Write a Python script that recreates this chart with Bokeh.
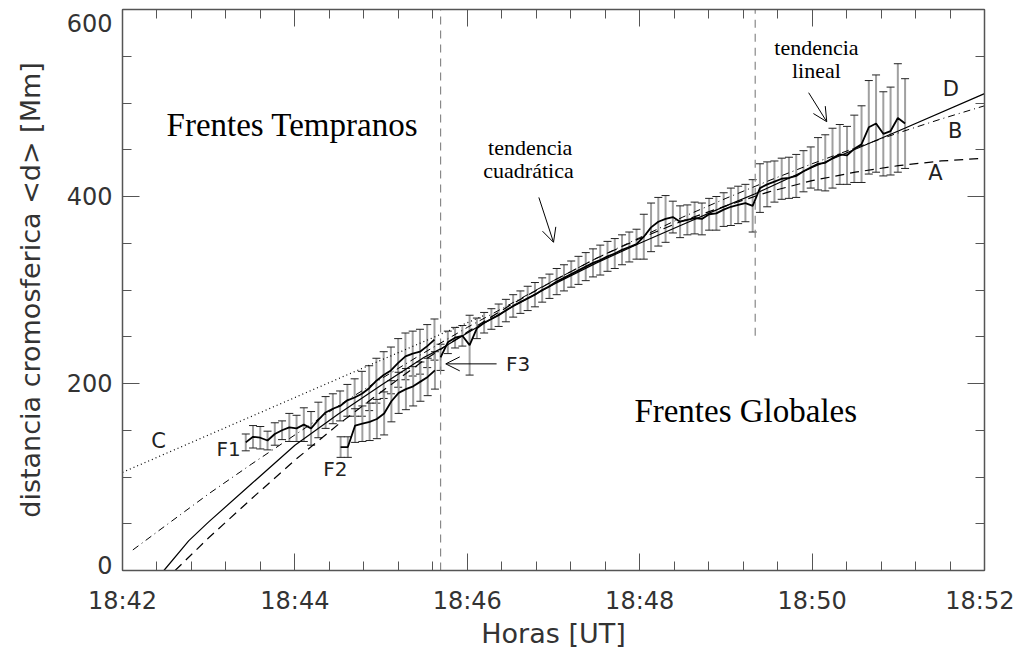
from bokeh.plotting import figure
from bokeh.models import (Range1d, FixedTicker, LinearAxis, Whisker, TeeHead,
                          ColumnDataSource, Label, Arrow, OpenHead, CustomJSTickFormatter,
                          CustomLabelingPolicy)
from bokeh.embed import file_html
from bokeh.resources import INLINE

# ---------------- data (minutes after 18:00) ----------------
# Global front (Frentes Globales), ~5 s cadence
g_start, g_step = 45.69, 0.0842
g_d = [228, 244, 249, 251, 241, 259, 265, 269, 273, 278, 283, 287, 291, 295, 300, 304,
       309, 313, 317, 321, 325, 329, 332, 336, 339, 343, 346, 349, 357, 367, 373, 376,
       378, 373, 375, 377, 376, 381, 382, 386, 389, 391, 393, 390, 409, 413, 416, 419,
       420, 422, 427, 431, 435, 436, 441, 445, 444, 451, 456, 474, 478, 467, 470, 484, 478]
g_e = [14, 12, 11, 11, 32, 11, 11, 11, 12, 12, 12, 12, 13, 13, 13, 13, 14, 14, 14, 15,
       15, 15, 16, 16, 16, 16, 16, 16, 24, 26, 26, 25, 17, 17, 16, 17, 17, 17, 18, 18,
       20, 20, 20, 28, 26, 24, 22, 22, 22, 23, 22, 22, 28, 30, 32, 32, 31, 36, 41, 50,
       52, 45, 47, 58, 48]

# Early front F1
f1_start, f1_step = 43.43, 0.0842
f1_d = [137, 143, 142, 139, 146, 150, 153, 152, 156, 152, 161, 169, 173, 176, 182, 185,
        189, 195, 203, 209, 214, 222, 229, 232, 234, 240, 247]
f1_e = [9, 12, 12, 10, 12, 10, 15, 14, 18, 18, 19, 17, 16, 16, 17, 20, 24, 24, 24, 25,
        25, 26, 25, 24, 24, 23, 22]

# Early front F2
f2_start, f2_step = 44.53, 0.0842
f2_d = [132, 132, 155, 157, 159, 162, 168, 181, 190, 194, 197, 202, 207, 214]
f2_e = [11, 11, 18, 19, 20, 21, 23, 22, 22, 22, 21, 21, 20, 20]

# Model curves
d_t = [42.48, 42.77, 43.0, 43.5, 44.0, 44.5, 45.0, 45.5, 45.69, 46.0, 46.5, 47.0, 47.5,
       48.0, 48.5, 49.0, 49.34, 50.0, 51.0, 52.0]
d_v = [0, 32, 52, 93, 134, 167, 198, 228, 237, 254, 281, 306, 329, 350, 370, 390, 403,
       431, 470, 510]
a_t = [42.61, 43.0, 43.5, 44.0, 44.5, 45.0, 45.5, 46.0, 46.5, 47.0, 47.5, 48.0, 48.5,
       49.0, 49.5, 50.0, 50.5, 51.0, 51.5, 52.0]
a_v = [0, 35, 77, 118, 156, 191, 225, 255, 284, 310, 334, 355, 374, 390, 405, 417, 426,
       433, 438, 441]
b_t = [42.12, 42.5, 43.0, 43.5, 44.0, 44.5, 45.0, 45.5, 46.0, 46.5, 47.0, 47.5, 48.0,
       48.5, 49.0, 49.5, 50.0, 50.5, 51.0, 51.5, 52.0]
b_v = [22, 48, 82, 114, 145, 176, 205, 233, 260, 285, 310, 334, 356, 378, 398, 417, 435,
       452, 468, 483, 497]
c_t = [42.0, 46.2]
c_v = [105, 273]

# boundaries between phases
t_sep1 = 45.69
t_sep2 = 49.34
sep2_low = 251

x_major = [42, 44, 46, 48, 50, 52]
y_major = [0, 200, 400, 600]

# ---------------- figure ----------------
p = figure(frame_width=862, frame_height=561, x_range=Range1d(42, 52),
           y_range=Range1d(0, 600), output_backend="svg", toolbar_location=None,
           min_border_left=122, min_border_top=9, min_border_right=30,
           min_border_bottom=76, x_axis_label="Horas [UT]",
           y_axis_label="distancia cromosferica <d> [Mm]")
p.grid.visible = False
p.outline_line_color = "#555555"
p.background_fill_color = "white"
p.border_fill_color = "white"

x_minor = [42 + 0.4 * k for k in range(26)]
y_minor = list(range(0, 601, 50))
xtick = FixedTicker(ticks=x_major, minor_ticks=x_minor)
ytick = FixedTicker(ticks=y_major, minor_ticks=y_minor)

fmt = CustomJSTickFormatter(code="return '18:' + tick.toFixed(0);")
# end labels nudged inward (as IDL does): extra empty line above/below
yfmt = CustomJSTickFormatter(code="""
if (tick >= 600) { return '\\n' + tick.toFixed(0); }
if (tick <= 0) { return tick.toFixed(0) + '\\n'; }
return tick.toFixed(0);
""")

no_labels = CustomLabelingPolicy(code="""
try { indices.clear(); }
catch (e) { for (const i of Array.from(indices)) { indices.unset(i); } }
return indices;
""")

def style_axis(ax, show):
    ax.axis_line_color = "#555555"
    ax.axis_line_width = 1.5
    ax.major_tick_line_color = "#555555"
    ax.minor_tick_line_color = "#555555"
    ax.major_tick_in = 17
    ax.major_tick_out = 0
    ax.minor_tick_in = 9
    ax.minor_tick_out = 0
    if show:
        ax.major_label_text_font = "DejaVu Sans"
        ax.major_label_text_font_size = "24px"
        ax.major_label_text_color = "#333333"
        ax.axis_label_text_font = "DejaVu Sans"
        ax.axis_label_text_font_size = "27px"
        ax.axis_label_text_font_style = "normal"
        ax.axis_label_text_color = "#333333"
    else:
        ax.major_label_text_font_size = "0px"
        ax.major_label_standoff = 0
        ax.major_label_policy = no_labels

p.xaxis.ticker = xtick
p.xaxis.formatter = fmt
p.yaxis.ticker = ytick
p.yaxis.formatter = yfmt
style_axis(p.xaxis[0], True)
style_axis(p.yaxis[0], True)
p.yaxis.major_label_text_line_height = 0.35
p.xaxis.major_label_standoff = 16
p.xaxis.axis_label_standoff = 0
p.yaxis.major_label_standoff = 10
p.yaxis.axis_label_standoff = 18

top = LinearAxis(ticker=xtick)
right = LinearAxis(ticker=ytick)
style_axis(top, False)
style_axis(right, False)
p.add_layout(top, "above")
p.add_layout(right, "right")

# vertical separators
p.line([t_sep1, t_sep1], [0, 600], line_color="#888888", line_width=1.2, line_dash="8 6")
p.line([t_sep2, t_sep2], [sep2_low, 600], line_color="#888888", line_width=1.2, line_dash="8 6")

# model curves
p.line(c_t, c_v, line_color="black", line_width=1.2, line_dash="1 3")
p.line(b_t, b_v, line_color="black", line_width=1, line_dash="7 4 1 4")
p.line(a_t, a_v, line_color="black", line_width=1.2, line_dash="9 6")
p.line(d_t, d_v, line_color="black", line_width=1.2)

# measured fronts with error bars
def front(start, step, vals, errs):
    t = [start + step * i for i in range(len(vals))]
    src = ColumnDataSource(dict(t=t, d=vals,
                                up=[v + e for v, e in zip(vals, errs)],
                                lo=[v - e for v, e in zip(vals, errs)]))
    w = Whisker(source=src, base="t", upper="up", lower="lo",
                line_color="#a0a0a0", line_width=2,
                upper_head=TeeHead(size=8, line_color="#222222", line_width=1),
                lower_head=TeeHead(size=8, line_color="#222222", line_width=1))
    p.add_layout(w)
    p.line("t", "d", source=src, line_color="black", line_width=1.8)

front(f1_start, f1_step, f1_d, f1_e)
front(f2_start, f2_step, f2_d, f2_e)
front(g_start, g_step, g_d, g_e)

# text annotations
serif = "Liberation Serif"
def lab(x, y, txt, size, font="DejaVu Sans", align="center", color="black"):
    p.add_layout(Label(x=x, y=y, text=txt, text_font=font, text_font_size=size,
                       text_align=align, text_baseline="middle", text_color=color))

lab(43.97, 476, "Frentes Tempranos", "33px", serif)
lab(49.23, 171, "Frentes Globales", "33px", serif)
lab(46.73, 452, "tendencia", "22px", serif)
lab(46.71, 428, "cuadrática", "22px", serif)
lab(50.05, 559, "tendencia", "22px", serif)
lab(50.05, 535, "lineal", "22px", serif)

lab(42.42, 139, "C", "21px", color="#222222")
lab(43.23, 130, "F1", "20px", color="#222222")
lab(44.47, 109, "F2", "20px", color="#222222")
lab(46.45, 221, "F3", "20px", align="left", color="#222222")
lab(51.61, 515, "D", "21px", color="#222222")
lab(51.66, 470, "B", "21px", color="#222222")
lab(51.43, 425, "A", "21px", color="#222222")

p.add_layout(Arrow(x_start=46.83, y_start=399, x_end=47.0, y_end=351,
                   line_color="black", line_width=1,
                   end=OpenHead(size=14, line_color="black", line_width=1)))
p.add_layout(Arrow(x_start=49.96, y_start=511, x_end=50.17, y_end=480,
                   line_color="black", line_width=1,
                   end=OpenHead(size=14, line_color="black", line_width=1)))
p.add_layout(Arrow(x_start=46.34, y_start=221, x_end=45.75, y_end=221,
                   line_color="black", line_width=1,
                   end=OpenHead(size=14, line_color="black", line_width=1)))

open("out.html", "w").write(file_html(p, INLINE))
